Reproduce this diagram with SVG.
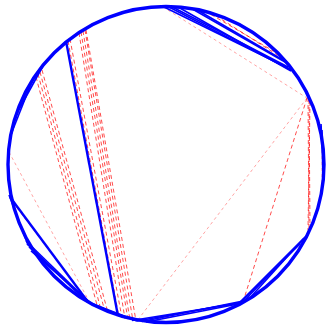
<svg xmlns="http://www.w3.org/2000/svg" width="332" height="331" viewBox="0 0 332 331">
<style>
.c{fill:none;stroke:#0000ff;stroke-width:3.4}
.b{stroke:#0000ff;stroke-width:1.6;fill:none}
.bt{stroke:#0000ff;stroke-width:2.4;fill:none}
.r{stroke:#ff0000;stroke-width:1;stroke-dasharray:4 3;fill:none;opacity:0.7}
.rf{stroke:#ff0000;stroke-width:0.8;stroke-dasharray:3 3;fill:none;opacity:0.45}
</style>
<rect width="332" height="331" fill="#ffffff"/>
<g id="red">
<line class="r" x1="68" y1="41" x2="119" y2="317"/>
<line class="r" x1="70" y1="39" x2="122" y2="318"/>
<line class="r" x1="79" y1="33" x2="125" y2="319"/>
<line class="r" x1="81" y1="32" x2="128" y2="320"/>
<line class="r" x1="83" y1="31" x2="130" y2="320"/>
<line class="r" x1="85" y1="30" x2="133" y2="321"/>
<line class="r" x1="86" y1="30" x2="136" y2="321"/>
<line class="r" x1="36" y1="77" x2="97" y2="305"/>
<line class="r" x1="38" y1="74" x2="100" y2="306"/>
<line class="r" x1="40" y1="72" x2="104" y2="308"/>
<line class="r" x1="42" y1="70" x2="107" y2="309"/>
<line class="rf" x1="9" y1="152" x2="90" y2="303"/>
<line class="r" x1="12" y1="201" x2="88" y2="302"/>
<line class="rf" x1="14" y1="204" x2="90" y2="303"/>
<line class="rf" x1="22" y1="106" x2="12" y2="128"/>
<line class="rf" x1="163" y1="7" x2="307" y2="98"/>
<line class="r" x1="205" y1="11" x2="275" y2="52"/>
<line class="r" x1="210" y1="12" x2="279" y2="56"/>
<line class="rf" x1="307" y1="98" x2="137" y2="321"/>
<line class="r" x1="307" y1="98" x2="243" y2="302"/>
<line class="r" x1="308" y1="98" x2="309" y2="229"/>
<line class="r" x1="309" y1="100" x2="310" y2="227"/>
<line class="r" x1="310" y1="102" x2="308" y2="230"/>
<line class="rf" x1="322" y1="150" x2="322" y2="186"/>
<line class="r" x1="150" y1="321" x2="240" y2="303"/>
</g>
<g id="blue">
<line class="bt" x1="66" y1="41" x2="118" y2="316"/>
<line class="b" x1="163" y1="6.5" x2="290" y2="69"/>
<line class="b" x1="168" y1="6.5" x2="291" y2="70"/>
<line class="b" x1="172" y1="6.7" x2="288" y2="67"/>
<line class="b" x1="178" y1="7" x2="291" y2="71"/>
<line class="b" x1="192" y1="8.7" x2="285" y2="62"/>
<line class="b" x1="196" y1="9.3" x2="283" y2="60"/>
<line class="b" x1="321" y1="124" x2="324" y2="176"/>
<line class="b" x1="322" y1="130" x2="323" y2="186"/>
<line class="b" x1="303" y1="240" x2="243" y2="302"/>
<line class="b" x1="306" y1="236" x2="248" y2="300"/>
<line class="b" x1="300" y1="244" x2="240" y2="303"/>
<line class="b" x1="304" y1="238" x2="238" y2="304"/>
<line class="b" x1="137" y1="321" x2="243" y2="302"/>
<line class="b" x1="142" y1="321.5" x2="248" y2="300"/>
<line class="b" x1="132" y1="320.5" x2="240" y2="303"/>
<line class="b" x1="146" y1="322" x2="238" y2="304"/>
<line class="bt" x1="10" y1="197" x2="88" y2="302"/>
<line class="b" x1="27" y1="244" x2="88" y2="302"/>
<line class="b" x1="29" y1="247" x2="86" y2="301"/>
<line class="b" x1="26" y1="241" x2="90" y2="303"/>
<line class="b" x1="31" y1="251" x2="92" y2="304"/>
<line class="b" x1="9" y1="195" x2="28" y2="245"/>
<line class="b" x1="10.8" y1="135" x2="32.5" y2="80"/>
<line class="b" x1="16" y1="115" x2="44" y2="64"/>
<line class="b" x1="88" y1="302" x2="137" y2="321"/>
</g>
<circle class="c" cx="166" cy="164.5" r="158"/>
</svg>
